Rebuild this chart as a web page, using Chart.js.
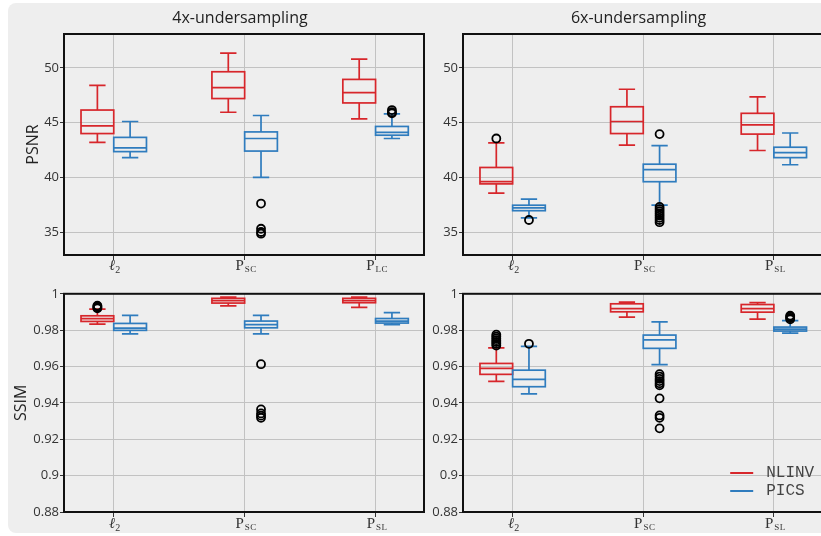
<!DOCTYPE html>
<html>
<head>
<meta charset="utf-8">
<script src="https://cdn.jsdelivr.net/npm/chart.js@4.4.1/dist/chart.umd.min.js"></script>
<style>
  body { margin: 0; background: #fff; overflow: hidden; width: 821px; height: 536px; position: relative; }
  #panel { position: absolute; left: 8px; top: 3px; width: 900px; height: 530px; background: #eeeeee; border-radius: 8px; }
  canvas { position: absolute; }
</style>
</head>
<body>
<div id="panel"></div>
<canvas id="psnr4x" width="440" height="285" style="left:0;top:0"></canvas>
<canvas id="psnr6x" width="400" height="285" style="left:428px;top:0"></canvas>
<canvas id="ssim4x" width="440" height="251" style="left:0;top:285px"></canvas>
<canvas id="ssim6x" width="400" height="251" style="left:428px;top:285px"></canvas>
<script>
// tick labels: main glyph + subscript
const tickMain = ['ℓ', 'P', 'P'];
const tickSubPsnr4x = ['2', 'SC', 'LC'];
const tickSubOther = ['2', 'SC', 'SL'];
const seriesNames = ['NLINV', 'PICS'];

const psnrTicks = [35, 40, 45, 50];
const ssimTicks = [0.88, 0.9, 0.92, 0.94, 0.96, 0.98, 1];

// box stats per category: [low whisker, q1, median, q3, high whisker]
const psnr4xNlinv = [[43.2, 44.0, 44.7, 46.15, 48.4], [45.95, 47.2, 48.2, 49.65, 51.35], [45.35, 46.8, 47.75, 48.95, 50.8]];
const psnr4xPics = [[41.8, 42.35, 42.7, 43.65, 45.1], [40.0, 42.4, 43.55, 44.15, 45.65], [43.55, 43.85, 44.1, 44.65, 45.8]];
const psnr4xNlinvOut = [[], [], []];
const psnr4xPicsOut = [[], [37.6, 35.3, 35.0, 34.85], [46.15, 45.95, 45.85]];

const psnr6xNlinv = [[38.55, 39.4, 39.6, 40.9, 43.15], [42.95, 44.0, 45.1, 46.45, 48.05], [42.45, 43.95, 44.8, 45.85, 47.35]];
const psnr6xPics = [[36.3, 36.95, 37.2, 37.45, 38.0], [37.45, 39.6, 40.7, 41.2, 42.9], [41.15, 41.8, 42.25, 42.75, 44.05]];
const psnr6xNlinvOut = [[43.55], [], []];
const psnr6xPicsOut = [[36.1], [43.95, 37.3, 37.1, 36.9, 36.7, 36.5, 36.3, 36.1, 35.9], []];

const ssim4xNlinv = [[0.9833, 0.9848, 0.9863, 0.9879, 0.9916], [0.9934, 0.9949, 0.9963, 0.9975, 0.9982], [0.9925, 0.9951, 0.9962, 0.9975, 0.9982]];
const ssim4xPics = [[0.978, 0.9799, 0.9811, 0.9837, 0.9881], [0.978, 0.9813, 0.9831, 0.985, 0.9881], [0.9831, 0.9839, 0.985, 0.9864, 0.9896]];
const ssim4xNlinvOut = [[0.992, 0.9925, 0.993, 0.9935], [], []];
const ssim4xPicsOut = [[], [0.9613, 0.9364, 0.9342, 0.933, 0.9318], []];

const ssim6xNlinv = [[0.9518, 0.9557, 0.959, 0.9617, 0.9703], [0.9872, 0.9901, 0.9919, 0.9945, 0.9954], [0.9861, 0.9899, 0.9918, 0.9941, 0.9952]];
const ssim6xPics = [[0.945, 0.9489, 0.9529, 0.958, 0.9711], [0.961, 0.97, 0.9747, 0.9773, 0.9846], [0.9784, 0.9795, 0.9806, 0.9817, 0.9853]];
const ssim6xNlinvOut = [[0.9715, 0.9725, 0.9735, 0.9745, 0.9755, 0.9765, 0.9775], [], []];
const ssim6xPicsOut = [[0.9725], [0.9558, 0.9545, 0.9532, 0.952, 0.9508, 0.9497, 0.9425, 0.9331, 0.9318, 0.926], [0.986, 0.9867, 0.9874, 0.988]];

const RED = '#d7262b';
const BLUE = '#2f7cbe';
const GRID = '#c2c2c2';
const TEXT = '#333';

function drawBox(ctx, xs, ys, center, s, color) {
  const x0 = xs.getPixelForValue(center - 0.125);
  const x1 = xs.getPixelForValue(center + 0.125);
  const xc = xs.getPixelForValue(center);
  const c0 = xs.getPixelForValue(center - 0.0625);
  const c1 = xs.getPixelForValue(center + 0.0625);
  const [lo, q1, med, q3, hi] = s.map(v => ys.getPixelForValue(v));
  ctx.strokeStyle = color;
  ctx.lineWidth = 1.7;
  ctx.strokeRect(x0, q3, x1 - x0, q1 - q3);
  ctx.beginPath();
  ctx.moveTo(x0, med); ctx.lineTo(x1, med);
  ctx.moveTo(xc, q3); ctx.lineTo(xc, hi);
  ctx.moveTo(xc, q1); ctx.lineTo(xc, lo);
  ctx.moveTo(c0, hi); ctx.lineTo(c1, hi);
  ctx.moveTo(c0, lo); ctx.lineTo(c1, lo);
  ctx.stroke();
}

const boxPlugin = {
  id: 'boxes',
  beforeDatasetsDraw(chart, args, o) {
    const ctx = chart.ctx, xs = chart.scales.x, ys = chart.scales.y;
    ctx.save();
    o.nlinv.forEach((s, i) => drawBox(ctx, xs, ys, i + 1 - 0.125, s, RED));
    o.pics.forEach((s, i) => drawBox(ctx, xs, ys, i + 1 + 0.125, s, BLUE));
    ctx.restore();
  },
  afterDraw(chart, args, o) {
    const ctx = chart.ctx, a = chart.chartArea, xs = chart.scales.x;
    ctx.save();
    // frame
    ctx.strokeStyle = '#111';
    ctx.lineWidth = 2;
    ctx.strokeRect(a.left, a.top, a.right - a.left, a.bottom - a.top);

    // panel title
    if (o.title) {
      ctx.fillStyle = '#222';
      ctx.font = '16px "Open Sans"';
      ctx.textAlign = 'center';
      ctx.textBaseline = 'alphabetic';
      ctx.fillText(o.title, (a.left + a.right) / 2 - 4, 23);
    }
    // y title
    if (o.yTitle) {
      ctx.save();
      ctx.translate(o.yTitleX, (a.top + a.bottom) / 2);
      ctx.rotate(-Math.PI / 2);
      ctx.fillStyle = '#222';
      ctx.font = '16px "Open Sans"';
      ctx.textAlign = 'center';
      ctx.textBaseline = 'middle';
      ctx.fillText(o.yTitle, 0, 0);
      ctx.restore();
    }
    // x tick labels with subscripts
    ctx.fillStyle = TEXT;
    ctx.textAlign = 'left';
    ctx.textBaseline = 'alphabetic';
    const base = a.bottom + o.labelDy;
    tickMain.forEach((m, i) => {
      const sub = o.subs[i];
      const mainFont = m === 'ℓ' ? 'italic 15px "Liberation Serif", "DejaVu Serif"' : '15px "Liberation Serif", "DejaVu Serif"';
      const subFont = sub === '2' ? '10px "Liberation Serif"' : '9px "Liberation Serif"';
      ctx.font = mainFont;
      const wm = ctx.measureText(m).width;
      ctx.font = subFont;
      const ws = ctx.measureText(sub).width + (sub.length > 1 ? 1 : 0);
      const x = xs.getPixelForValue(i + 1) - (wm + ws) / 2 + 1;
      ctx.font = mainFont;
      ctx.fillText(m, x, base);
      ctx.font = subFont;
      if (sub.length > 1) {
        ctx.fillText(sub[0], x + wm + 1, base + 2);
        ctx.fillText(sub[1], x + wm + 1 + ctx.measureText(sub[0]).width + 0.5, base + 2);
      } else {
        ctx.fillText(sub, x + wm, base + 3);
      }
    });
    // legend
    if (o.legend) {
      const colors = [RED, BLUE];
      ctx.font = '16px "Liberation Mono"';
      ctx.textBaseline = 'middle';
      seriesNames.forEach((n, i) => {
        const y = a.bottom - 39 + i * 18;
        ctx.strokeStyle = colors[i];
        ctx.lineWidth = 2;
        ctx.beginPath();
        ctx.moveTo(a.right - 92, y); ctx.lineTo(a.right - 69, y);
        ctx.stroke();
        ctx.fillStyle = '#444';
        ctx.fillText(n, a.right - 56, y);
      });
    }
    ctx.restore();
  }
};

function outlierPoints(nlinvOut, picsOut) {
  const pts = [];
  nlinvOut.forEach((arr, i) => arr.forEach(v => pts.push({ x: i + 1 - 0.125, y: v })));
  picsOut.forEach((arr, i) => arr.forEach(v => pts.push({ x: i + 1 + 0.125, y: v })));
  return pts;
}

function makeChart(id, cfg) {
  new Chart(document.getElementById(id), {
    type: 'scatter',
    data: {
      datasets: [{
        data: outlierPoints(cfg.nlinvOut, cfg.picsOut),
        pointRadius: 4,
        pointBorderWidth: 1.8,
        pointBorderColor: '#000',
        pointBackgroundColor: 'rgba(0,0,0,0)',
        clip: false
      }]
    },
    options: {
      responsive: false,
      animation: false,
      events: [],
      layout: { padding: cfg.padding },
      plugins: {
        legend: { display: false },
        tooltip: { enabled: false },
        boxes: {
          nlinv: cfg.nlinv, pics: cfg.pics, subs: cfg.subs,
          title: cfg.title, yTitle: cfg.yTitle, yTitleX: cfg.yTitleX,
          legend: cfg.legend, labelDy: cfg.labelDy
        }
      },
      scales: {
        x: {
          type: 'linear', min: 0.62, max: 3.37,
          afterBuildTicks: s => { s.ticks = [1, 2, 3].map(v => ({ value: v })); },
          afterFit: s => { s.height = cfg.xH; },
          ticks: { display: false },
          border: { display: false },
          grid: { color: GRID, lineWidth: 1, tickLength: 5, tickColor: '#333', tickWidth: 1 }
        },
        y: {
          type: 'linear', min: cfg.yMin, max: cfg.yMax,
          afterBuildTicks: s => { s.ticks = cfg.yTicks.map(v => ({ value: v })); },
          afterFit: s => { s.width = cfg.yW; },
          ticks: {
            color: TEXT, font: { family: 'Open Sans', size: 13 }, padding: 1,
            callback: v => String(parseFloat(v.toFixed(2)))
          },
          border: { display: false },
          grid: { color: GRID, lineWidth: 1, tickLength: 4, tickColor: '#333', tickWidth: 1 }
        }
      }
    },
    plugins: [boxPlugin]
  });
}

makeChart('psnr4x', {
  nlinv: psnr4xNlinv, pics: psnr4xPics, nlinvOut: psnr4xNlinvOut, picsOut: psnr4xPicsOut,
  subs: tickSubPsnr4x, title: '4x-undersampling', yTitle: 'PSNR', yTitleX: 33, legend: false,
  yMin: 32.9, yMax: 53.1, yTicks: psnrTicks,
  padding: { left: 0, top: 34, right: 16, bottom: 0 }, yW: 64, xH: 30, labelDy: 15
});
makeChart('psnr6x', {
  nlinv: psnr6xNlinv, pics: psnr6xPics, nlinvOut: psnr6xNlinvOut, picsOut: psnr6xPicsOut,
  subs: tickSubOther, title: '6x-undersampling', yTitle: null, legend: false,
  yMin: 32.9, yMax: 53.1, yTicks: psnrTicks,
  padding: { left: 0, top: 34, right: 5, bottom: 0 }, yW: 35, xH: 30, labelDy: 15
});
makeChart('ssim4x', {
  nlinv: ssim4xNlinv, pics: ssim4xPics, nlinvOut: ssim4xNlinvOut, picsOut: ssim4xPicsOut,
  subs: tickSubOther, title: null, yTitle: 'SSIM', yTitleX: 21, legend: false,
  yMin: 0.88, yMax: 1, yTicks: ssimTicks,
  padding: { left: 0, top: 8, right: 16, bottom: 0 }, yW: 64, xH: 24, labelDy: 16
});
makeChart('ssim6x', {
  nlinv: ssim6xNlinv, pics: ssim6xPics, nlinvOut: ssim6xNlinvOut, picsOut: ssim6xPicsOut,
  subs: tickSubOther, title: null, yTitle: null, legend: true,
  yMin: 0.88, yMax: 1, yTicks: ssimTicks,
  padding: { left: 0, top: 8, right: 5, bottom: 0 }, yW: 35, xH: 24, labelDy: 16
});
</script>
</body>
</html>
